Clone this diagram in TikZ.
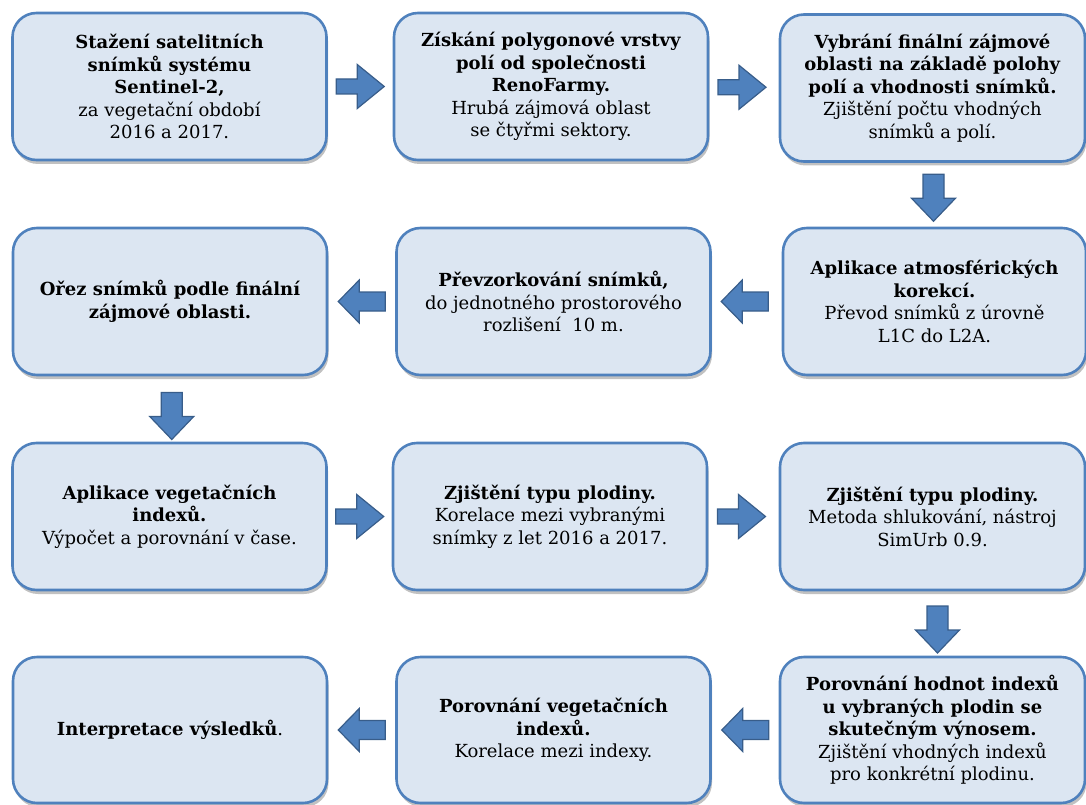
\documentclass[tikz,border=0pt]{standalone}
\usepackage{fontspec}
\setmainfont{DejaVu Serif}
\usetikzlibrary{calc,shadows}
\definecolor{boxfill}{HTML}{DCE6F2}
\definecolor{boxline}{HTML}{4F81BD}
\definecolor{arrfill}{HTML}{4F81BD}
\definecolor{arrline}{HTML}{385D8A}
\begin{document}
\begin{tikzpicture}[x=1pt,y=-1pt]
\tikzset{
  stepbox/.style={draw=boxline, line width=2.6pt, fill=boxfill, rounded corners=24pt,
    minimum height=147pt, minimum width=314pt, align=center, inner sep=2pt, text=black,
    font=\fontsize{18}{22.5}\selectfont,
    drop shadow={shadow xshift=1.5pt, shadow yshift=-4pt, opacity=0.35, fill=black!70}},
  arrsty/.style={fill=arrfill, draw=arrline, line width=1.2pt, line join=miter},
  pics/rblock/.style={code={\path[arrsty] (-24,-7.5) -- (-3,-7.5) -- (-3,-22) -- (24,0) -- (-3,22) -- (-3,7.5) -- (-24,7.5) -- cycle;}},
  pics/lblock/.style={code={\path[arrsty] (23.5,-9.5) -- (-2.5,-9.5) -- (-2.5,-21.5) -- (-23.5,0) -- (-2.5,21.5) -- (-2.5,9.5) -- (23.5,9.5) -- cycle;}},
  pics/dblock/.style={code={\path[arrsty] (-10.5,-23.5) -- (10.5,-23.5) -- (10.5,0.5) -- (22,0.5) -- (0,23.5) -- (-22,0.5) -- (-10.5,0.5) -- cycle;}},
}
\useasboundingbox (0,0) rectangle (1086,805);

% row 1
\node[stepbox] (b1) at (169.5,86.5) {\textbf{Stažení satelitních}\\\textbf{snímků systému}\\\textbf{Sentinel-2,}\\za vegetační období\\2016 a 2017.};
\node[stepbox] (b2) at (551,86.5) {\textbf{Získání polygonové vrstvy}\\\textbf{polí od společnosti}\\\textbf{RenoFarmy.}\\Hrubá zájmová oblast\\se čtyřmi sektory.};
\node[stepbox, minimum width=305pt] (b3) at (932.5,88) {\textbf{Vybrání finální zájmové}\\\textbf{oblasti na základě polohy}\\\textbf{polí a vhodnosti snímků.}\\Zjištění počtu vhodných\\snímků a polí.};
% row 2
\node[stepbox] (b4) at (170,301.5) {\textbf{Ořez snímků podle finální}\\\textbf{zájmové oblasti.}};
\node[stepbox] (b5) at (553.5,301.5) {\textbf{Převzorkování snímků,}\\do jednotného prostorového\\rozlišení~~10 m.};
\node[stepbox, minimum width=303pt] (b6) at (934.5,301.5) {\textbf{Aplikace atmosférických}\\\textbf{korekcí.}\\Převod snímků z úrovně\\L1C do L2A.};
% row 3
\node[stepbox] (b7) at (169.5,516.5) {\textbf{Aplikace vegetačních}\\\textbf{indexů.}\\Výpočet a porovnání v čase.};
\node[stepbox] (b8) at (550,516.5) {\textbf{Zjištění typu plodiny.}\\Korelace mezi vybranými\\snímky z let 2016 a 2017.};
\node[stepbox, minimum width=305pt] (b9) at (932.5,516.5) {\textbf{Zjištění typu plodiny.}\\Metoda shlukování, nástroj\\SimUrb 0.9.};
% row 4
\node[stepbox, minimum height=146pt] (b10) at (170,730) {\textbf{Interpretace výsledků}.};
\node[stepbox, minimum height=146pt] (b11) at (553.5,730) {\textbf{Porovnání vegetačních}\\\textbf{indexů.}\\Korelace mezi indexy.};
\node[stepbox, minimum height=146pt, minimum width=305pt] (b12) at (932.5,730) {\textbf{Porovnání hodnot indexů}\\\textbf{u vybraných plodin se}\\\textbf{skutečným výnosem.}\\Zjištění vhodných indexů\\pro konkrétní plodinu.};

% connectors
\pic at ($(b1.east)!0.5!(b2.west)$) {rblock};
\pic at ($(b2.east)!0.5!(b3.west)+(-2,0)$) {rblock};
\pic at ($(b3.south)!0.5!(b6.north)+(0,3)$) {dblock};
\pic at ($(b6.west)!0.5!(b5.east)+(-2,0)$) {lblock};
\pic at ($(b5.west)!0.5!(b4.east)$) {lblock};
\pic at ($(b4.south)!0.5!(b7.north)+(2,7)$) {dblock};
\pic at ($(b7.east)!0.5!(b8.west)$) {rblock};
\pic at ($(b8.east)!0.5!(b9.west)+(-2,0)$) {rblock};
\pic at ($(b9.south)!0.5!(b12.north)+(5,6)$) {dblock};
\pic at ($(b12.west)!0.5!(b11.east)$) {lblock};
\pic at ($(b11.west)!0.5!(b10.east)$) {lblock};
\end{tikzpicture}
\end{document}
